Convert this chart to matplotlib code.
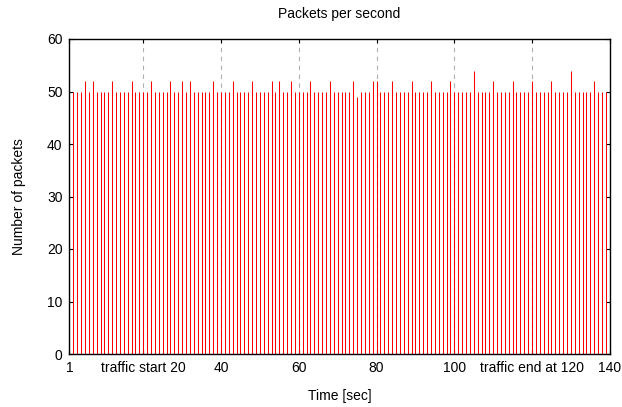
import matplotlib
matplotlib.use("Agg")
import matplotlib.pyplot as plt
import numpy as np

plt.rcParams['font.family'] = ['Liberation Sans', 'DejaVu Sans']

# Data: packets per second for seconds 1..140
seconds = list(range(1, 141))
packets = [50] * 140
peaks_52 = [5, 7, 12, 17, 22, 27, 30, 32, 38, 43, 48, 53, 55, 58, 63, 68,
            74, 79, 80, 84, 89, 94, 99, 110, 115, 120, 125, 136]
peaks_54 = [105, 130]
dips_49 = [75]
for s in peaks_52:
    packets[s - 1] = 52
for s in peaks_54:
    packets[s - 1] = 54
for s in dips_49:
    packets[s - 1] = 49

xtick_pos = [1, 20, 40, 60, 80, 100, 120, 140]
xtick_labels = ["1", "traffic start 20", "40", "60", "80", "100",
                "traffic end at 120", "140"]
ytick_pos = [0, 10, 20, 30, 40, 50, 60]

fig = plt.figure(figsize=(6.22, 4.07), dpi=100)
ax = fig.add_axes([69.4 / 622, 1 - 354 / 407, (609.8 - 69.4) / 622, (354 - 39) / 407])

ax.vlines(seconds, 0, packets, colors='#ff0000', linewidth=0.75, zorder=2)

ax.set_xlim(1, 140)
ax.set_ylim(0, 60)
ax.set_xticks(xtick_pos)
ax.set_xticklabels(xtick_labels)
ax.set_yticks(ytick_pos)

for x in xtick_pos[1:-1]:
    ax.axvline(x, color='#b0b0b0', linestyle=(0, (4, 4)), linewidth=0.8, zorder=1)

ax.tick_params(direction='in', top=True, right=True, length=3, width=0.8,
               labelsize=10, pad=5)
for sp in ax.spines.values():
    sp.set_linewidth(1.0)
    sp.set_zorder(3)

ax.set_title("Packets per second", fontsize=10, pad=15)
ax.set_xlabel("Time [sec]", fontsize=10, labelpad=10)
ax.set_ylabel("Number of packets", fontsize=10, labelpad=15)

fig.savefig("out.png", dpi=100)
